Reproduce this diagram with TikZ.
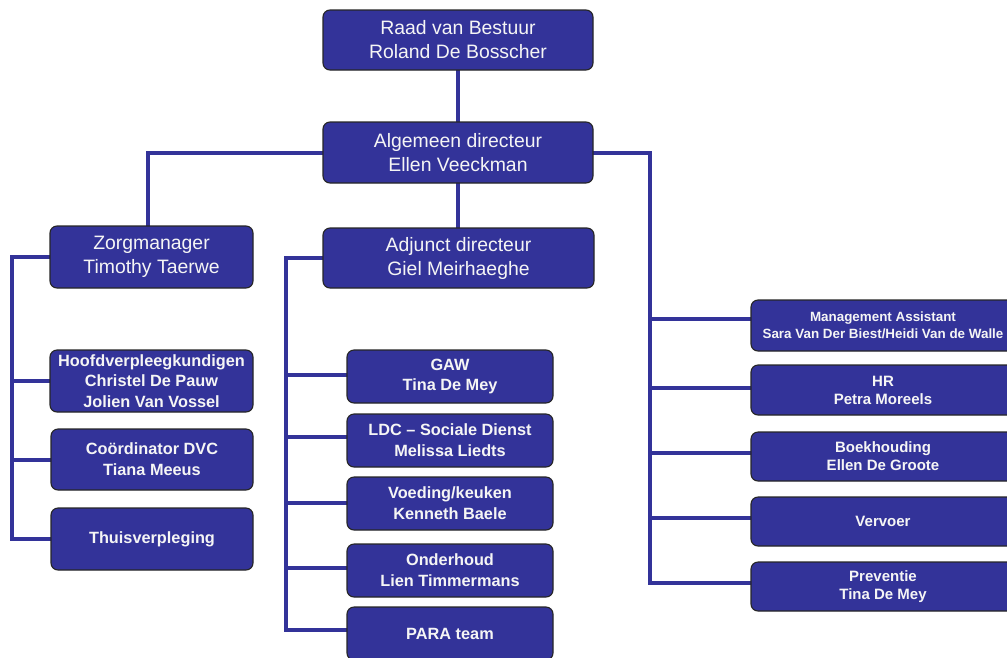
\documentclass[tikz,border=0pt]{standalone}
\usepackage{fontspec}
\setmainfont{Liberation Sans}
\usetikzlibrary{backgrounds}
\definecolor{boxblue}{RGB}{51,51,153}
\definecolor{lineblue}{RGB}{51,51,153}
\definecolor{txt}{RGB}{245,245,245}
\tikzset{
  box/.style={draw=black!85, line width=1.1pt, fill=boxblue, rounded corners=7pt,
    text=txt, align=center, inner sep=0pt, outer sep=0pt},
  topbox/.style={box, font=\fontsize{19.4}{24}\selectfont},
  midbox/.style={box, font=\bfseries\fontsize{16.3}{20.7}\selectfont},
  rbox/.style={box, font=\bfseries\fontsize{15}{18}\selectfont},
  conn/.style={draw=lineblue, line width=4pt, line join=miter}
}
\begin{document}
\begin{tikzpicture}[x=1pt,y=-1pt]
\useasboundingbox (0,0) rectangle (1007,657);
\clip (0,0) rectangle (1007,657);
% top
\node[topbox, minimum width=270pt, minimum height=60pt] (raad) at (458,40) {Raad van Bestuur\\Roland De Bosscher};
\node[topbox, minimum width=270pt, minimum height=61pt] (alg) at (458,152.5) {Algemeen directeur\\Ellen Veeckman};
\node[topbox, minimum width=203pt, minimum height=62pt] (zorg) at (151.5,257) {Zorgmanager\\Timothy Taerwe};
\node[topbox, minimum width=271pt, minimum height=60pt] (adj) at (458.5,258) {Adjunct directeur\\Giel Meirhaeghe};
% left column
\node[midbox, minimum width=203pt, minimum height=62pt] (hoofd) at (151.5,381) {Hoofdverpleegkundigen\\Christel De Pauw\\Jolien Van Vossel};
\node[midbox, minimum width=202pt, minimum height=61pt] (coord) at (152,459.5) {Coördinator DVC\\Tiana Meeus};
\node[midbox, minimum width=202pt, minimum height=62pt] (thuis) at (152,539) {Thuisverpleging};
% middle column
\node[midbox, minimum width=206pt, minimum height=53pt] (gaw) at (450,376.5) {GAW\\Tina De Mey};
\node[midbox, minimum width=206pt, minimum height=53pt] (ldc) at (450,440.5) {LDC – Sociale Dienst\\Melissa Liedts};
\node[midbox, minimum width=206pt, minimum height=53pt] (voed) at (450,503.5) {Voeding/keuken\\Kenneth Baele};
\node[midbox, minimum width=206pt, minimum height=53pt] (onder) at (450,570.5) {Onderhoud\\Lien Timmermans};
\node[midbox, minimum width=206pt, minimum height=53pt] (para) at (450,633.5) {PARA team};
% right column
\node[rbox, font=\bfseries\fontsize{13.4}{16.7}\selectfont, minimum width=264pt, minimum height=51pt] (ma) at (883,325.5) {Management Assistant\\Sara Van Der Biest/Heidi Van de Walle};
\node[rbox, minimum width=264pt, minimum height=50pt] (hr) at (883,390) {HR\\Petra Moreels};
\node[rbox, minimum width=264pt, minimum height=49pt] (boek) at (883,456.5) {Boekhouding\\Ellen De Groote};
\node[rbox, minimum width=264pt, minimum height=49pt] (verv) at (883,521.5) {Vervoer};
\node[rbox, minimum width=264pt, minimum height=49pt] (prev) at (883,586.5) {Preventie\\Tina De Mey};
% trunk coordinates
\coordinate (zx) at (148,0);
\coordinate (lx) at (12,0);
\coordinate (mx) at (286,0);
\coordinate (rx) at (650,0);
\coordinate (maL) at ([yshift=6.5pt]ma.west);
\coordinate (hrL) at ([yshift=2pt]hr.west);
\coordinate (boekL) at ([yshift=3.5pt]boek.west);
\coordinate (vervL) at ([yshift=3.5pt]verv.west);
\coordinate (prevL) at ([yshift=3.5pt]prev.west);
\coordinate (gawL) at ([yshift=1.5pt]gaw.west);
\coordinate (ldcL) at ([yshift=3.5pt]ldc.west);
\coordinate (voedL) at ([yshift=0.5pt]voed.west);
\coordinate (onderL) at ([yshift=2.5pt]onder.west);
\coordinate (paraL) at ([yshift=4pt]para.west);
\begin{scope}[on background layer]
\draw[conn] (raad.south) -- (alg.north);
\draw[conn] (alg.south) -- (alg.south |- adj.north);
\draw[conn] (alg.west) -- (alg.west -| zx) -- (zx |- zorg.north);
% right
\draw[conn] (alg.east) -- (alg.east -| rx) -- (prevL -| rx) -- (prevL);
\draw[conn] (maL -| rx) -- (maL);
\draw[conn] (hrL -| rx) -- (hrL);
\draw[conn] (boekL -| rx) -- (boekL);
\draw[conn] (vervL -| rx) -- (vervL);
% left
\draw[conn] (zorg.west) -- (zorg.west -| lx) -- (thuis.west -| lx) -- (thuis.west);
\draw[conn] (hoofd.west -| lx) -- (hoofd.west);
\draw[conn] (coord.west -| lx) -- (coord.west);
% middle
\draw[conn] (adj.west) -- (adj.west -| mx) -- (paraL -| mx) -- (paraL);
\draw[conn] (gawL -| mx) -- (gawL);
\draw[conn] (ldcL -| mx) -- (ldcL);
\draw[conn] (voedL -| mx) -- (voedL);
\draw[conn] (onderL -| mx) -- (onderL);
\end{scope}
\end{tikzpicture}
\end{document}
